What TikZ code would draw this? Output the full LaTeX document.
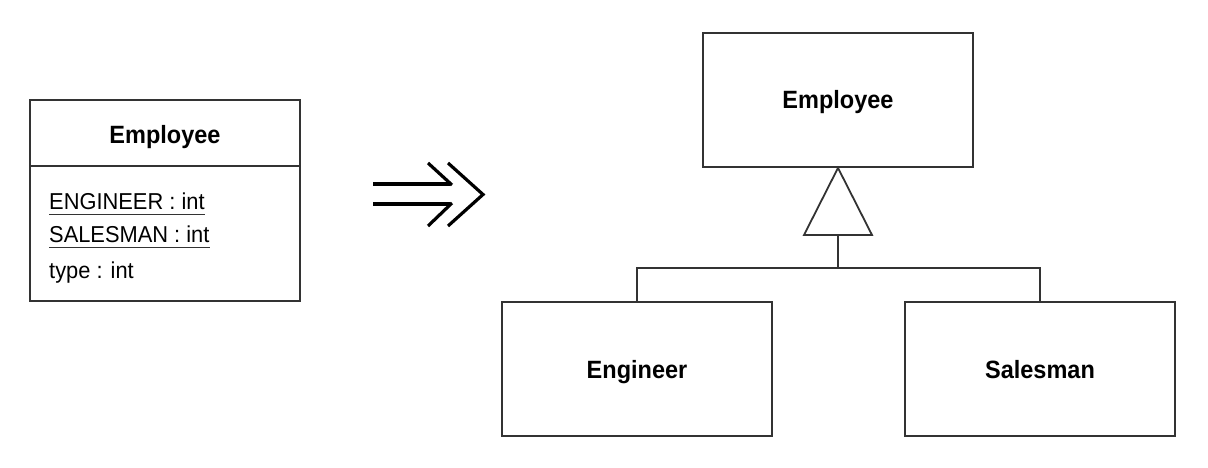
\documentclass[tikz,border=0pt]{standalone}
\usepackage{fontspec}
\setmainfont{Liberation Sans}
\newfontfamily\umlfont{Liberation Sans}[FakeStretch=0.95]
\newfontfamily\umlhead{Liberation Sans}[FakeStretch=0.94]
\usetikzlibrary{calc}

\tikzset{
  classbox/.style={draw=black!80, line width=1.8pt, minimum width=270pt, minimum height=134pt,
    inner sep=0pt, text height=18pt, text depth=0pt, font=\umlhead\bfseries\fontsize{25}{30}\selectfont},
  attr/.style={anchor=base west, inner sep=0pt, font=\umlfont\fontsize{23}{28}\selectfont},
  uline/.style={line width=1.4pt, black!80},
  link/.style={line width=1.8pt, black!80},
  fat/.style={line width=3.2pt, line cap=butt}
}

\begin{document}
\begin{tikzpicture}[x=1pt,y=-1pt]
    \useasboundingbox (0,0) rectangle (1208,468);

    % draw the old class with type code
    \node[classbox, minimum height=201pt] (old) at (165,200.5) {};
    \draw[link] (old.west |- 0,166) -- (old.east |- 0,166);
    \node[classbox, draw=none, minimum width=0pt, minimum height=0pt, anchor=base] (oldname) at (165,144) {Employee};
    \node[attr] (engattr) at (49,209) {ENGINEER : int};
    \node[attr] (salattr) at (49,242) {SALESMAN : int};
    \node[attr] (typeattr) at (49,278) {type : int};

    % underline static fields
    \foreach \a in {engattr,salattr}
    \draw[uline] ($(\a.base west)+(0,5.5)$) -- ($(\a.base east)+(0,5.5)$);

    % draw refactoring arrow
    \draw[fat] (373,184) -- (450,184);
    \draw[fat] (373,204) -- (450,204);
    \draw[fat, line join=miter] (428,163) -- (452,185);
    \draw[fat, line join=miter] (428,226) -- (452,203);
    \draw[fat, line join=miter] (448,163) -- (483,194.5) -- (448,226);

    % draw new classes
    \node[classbox] (emp) at (838,100) {Employee};
    \node[classbox] (eng) at (637,369) {Engineer};
    \node[classbox] (sal) at (1040,369) {Salesman};

    % draw generalization
    \coordinate (tribase) at (838,235);
    \draw[link, line join=miter] (emp.south) -- ($(tribase)+(-34,0)$) -- ($(tribase)+(34,0)$) -- cycle;
    \draw[link] (tribase) -- ++(0,33) coordinate (bus);
    \draw[link] (bus) -| (eng.north);
    \draw[link] (bus) -| (sal.north);

  \end{tikzpicture}
\end{document}
